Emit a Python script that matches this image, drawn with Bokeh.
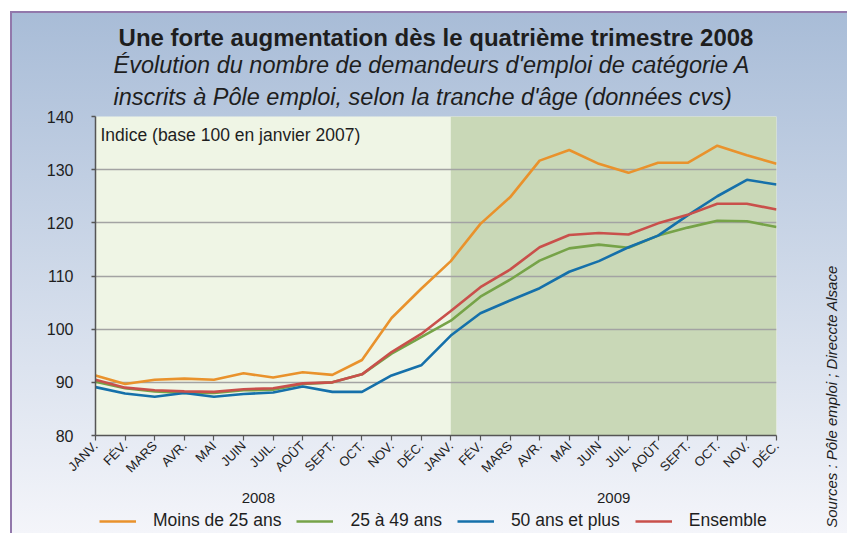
import math
from bokeh.plotting import figure
from bokeh.layouts import row, column
from bokeh.core.properties import value
from bokeh.models import (Range1d, BoxAnnotation, Label, LabelSet, Legend, LegendItem,
                          FixedTicker, Title, ColumnDataSource)
from bokeh.embed import file_html
from bokeh.resources import INLINE

# ---------------- data ----------------
months = ["JANV.", "FÉV.", "MARS", "AVR.", "MAI", "JUIN", "JUIL.", "AOÛT",
          "SEPT.", "OCT.", "NOV.", "DÉC."]
years = ["2008", "2009"]
month_labels = months + months

moins_25 = [91.3, 89.7, 90.5, 90.7, 90.5, 91.7, 90.9, 91.9, 91.4, 94.2, 102.1, 107.6,
            112.8, 119.8, 124.8, 131.7, 133.7, 131.1, 129.4, 131.3, 131.3, 134.5, 132.7, 131.1]
de_25_a_49 = [90.1, 88.9, 88.3, 88.0, 88.0, 88.5, 88.6, 89.7, 90.0, 91.5, 95.4, 98.5,
              101.6, 106.1, 109.3, 112.9, 115.2, 115.9, 115.3, 117.6, 119.1, 120.4, 120.3, 119.2]
plus_50 = [89.1, 87.9, 87.3, 88.0, 87.3, 87.8, 88.1, 89.2, 88.2, 88.2, 91.3, 93.2,
           98.8, 103.0, 105.4, 107.7, 110.8, 112.8, 115.4, 117.6, 121.4, 125.0, 128.1, 127.2]
ensemble = [90.5, 89.0, 88.5, 88.3, 88.2, 88.7, 88.9, 89.8, 90.0, 91.5, 95.7, 99.1,
            103.4, 107.9, 111.2, 115.4, 117.7, 118.1, 117.8, 119.9, 121.5, 123.6, 123.6, 122.5]
series_names = ["Moins de 25 ans", "25 à 49 ans", "50 ans et plus", "Ensemble"]
y_ticks = [80, 90, 100, 110, 120, 130, 140]

title = "Une forte augmentation dès le quatrième trimestre 2008"
subtitle1 = "Évolution du nombre de demandeurs d'emploi de catégorie A"
subtitle2 = "inscrits à Pôle emploi, selon la tranche d'âge (données cvs)"
index_note = "Indice (base 100 en janvier 2007)"
source_note = "Sources : Pôle emploi ; Direccte Alsace"

# ---------------- styling ----------------
FONT = "Liberation Sans"
colors = ["#e9922c", "#76a348", "#1570aa", "#c9504b"]
TXT = "#1e1e1e"
AX = "#555555"

x = list(range(len(month_labels)))
n = len(x)
series = [moins_25, de_25_a_49, plus_50, ensemble]

MAIN_W, SRC_W = 800, 47
MAIN_H, BOT_H = 483, 50
BL, BR = 95, 24

xr = Range1d(0, n - 1)


def clean(fig):
    fig.border_fill_color = None
    fig.outline_line_color = None


# ---------------- main chart ----------------
p = figure(width=MAIN_W, height=MAIN_H, output_backend="svg", toolbar_location=None,
           title_location=None, x_range=xr, y_range=Range1d(y_ticks[0], y_ticks[-1]),
           min_border_left=BL, min_border_right=BR, min_border_top=116, min_border_bottom=48)
clean(p)
p.background_fill_color = "#eff5e5"

p.add_layout(BoxAnnotation(left=len(months), fill_color="#c9d8b7", fill_alpha=1,
                           line_color=None, level="image"))

p.xgrid.grid_line_color = None
p.ygrid.ticker = FixedTicker(ticks=y_ticks)
p.ygrid.grid_line_color = "#a3a3a3"
p.ygrid.grid_line_width = 1.6

p.yaxis.ticker = FixedTicker(ticks=y_ticks)
p.yaxis.axis_line_color = AX
p.yaxis.axis_line_width = 1.5
p.yaxis.major_tick_line_color = AX
p.yaxis.major_tick_line_width = 1.5
p.yaxis.major_tick_out = 4
p.yaxis.major_tick_in = 0
p.yaxis.minor_tick_line_color = None
p.yaxis.major_label_standoff = 18
p.yaxis.major_label_text_font = FONT
p.yaxis.major_label_text_font_size = "16px"
p.yaxis.major_label_text_color = TXT

p.xaxis.ticker = FixedTicker(ticks=x)
p.xaxis.major_label_overrides = {i: t for i, t in zip(x, month_labels)}
p.xaxis.major_label_orientation = math.pi / 4
p.xaxis.axis_line_color = AX
p.xaxis.axis_line_width = 1.5
p.xaxis.major_tick_line_color = AX
p.xaxis.major_tick_line_width = 1.2
p.xaxis.major_tick_out = 5
p.xaxis.major_tick_in = 0
p.xaxis.minor_tick_line_color = None
p.xaxis.major_label_standoff = 3
p.xaxis.major_label_text_font = FONT
p.xaxis.major_label_text_font_size = "13px"
p.xaxis.major_label_text_color = TXT

for vals, col in zip(series, colors):
    p.line(x, vals, line_color=col, line_width=2.6)

p.add_layout(Label(x=5, y=301, x_units="screen", y_units="screen", text=index_note,
                   text_align="left", text_baseline="alphabetic",
                   text_font=FONT, text_font_size="17.5px", text_color=TXT))

p.add_layout(Title(text=subtitle2, align="left", offset=18, standoff=13,
                   text_font=FONT, text_font_style="italic", text_font_size="23.5px",
                   text_color=TXT), "above")
p.add_layout(Title(text=subtitle1, align="left", offset=18, standoff=-4,
                   text_font=FONT, text_font_style="italic", text_font_size="23.5px",
                   text_color=TXT), "above")
p.add_layout(Title(text=title, align="center", standoff=2,
                   text_font=FONT, text_font_style="bold", text_font_size="24px",
                   text_color=TXT), "above")

# ---------------- bottom strip: years + legend ----------------
b = figure(width=MAIN_W, height=BOT_H, output_backend="svg", toolbar_location=None,
           title_location=None, x_range=xr, y_range=Range1d(0, 1),
           x_axis_type=None, y_axis_type=None,
           min_border_left=BL, min_border_right=BR, min_border_top=0, min_border_bottom=0)
clean(b)
b.background_fill_color = None
b.grid.visible = False

year_x = [sum(range(i * 12, (i + 1) * 12)) / 12 for i in range(len(years))]
b.add_layout(LabelSet(x="x", y=36, y_units="screen", text="text",
                      source=ColumnDataSource(dict(x=year_x, text=years)),
                      text_align="center", text_baseline="middle",
                      text_font=value(FONT), text_font_size=value("15px"),
                      text_color=TXT))

leg_r = [b.line(x, vals, line_color=col, line_width=2.6) for vals, col in zip(series, colors)]
legend = Legend(items=[LegendItem(label=nm, renderers=[r]) for nm, r in zip(series_names, leg_r)],
                orientation="horizontal", location=(4, 2),
                glyph_width=37, glyph_height=20, label_height=20, label_standoff=17, spacing=15,
                padding=0, margin=0, border_line_color=None, background_fill_alpha=0,
                label_text_font=FONT, label_text_font_size="17.5px", label_text_color=TXT)
b.add_layout(legend)

# ---------------- right strip: source ----------------
s = figure(width=SRC_W, height=MAIN_H + BOT_H, output_backend="svg", toolbar_location=None,
           title_location=None, x_range=Range1d(0, 1), y_range=Range1d(0, 1),
           x_axis_type=None, y_axis_type=None,
           min_border_left=0, min_border_right=0, min_border_top=0, min_border_bottom=0)
clean(s)
s.background_fill_color = None
s.grid.visible = False
s.add_layout(Label(x=31, y=137, x_units="screen", y_units="screen", text=source_note,
                   angle=math.pi / 2, text_align="center", text_baseline="middle",
                   text_font=FONT, text_font_style="italic", text_font_size="15px",
                   text_color=TXT))

lay = row(column(p, b), s)
lay.styles = {
    "background": ("linear-gradient(#9278ab,#9278ab) 10px 11px / calc(100% - 10px) 2px no-repeat, "
                   "linear-gradient(#9278ab,#9278ab) 10px 11px / 2px calc(100% - 11px) no-repeat, "
                   "linear-gradient(to bottom, #a8bcd7, #f4f5fa) 10px 11px / calc(100% - 10px) calc(100% - 11px) no-repeat, "
                   "#ffffff"),
}

open("out.html", "w").write(file_html(lay, INLINE))
